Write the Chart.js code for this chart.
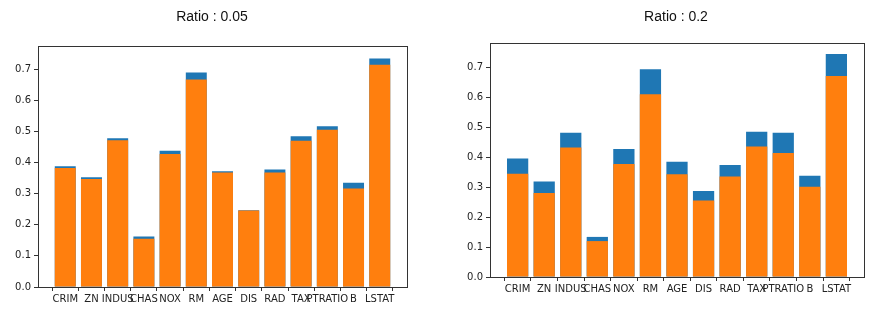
<!DOCTYPE html>
<html>
<head>
<meta charset="utf-8">
<script src="https://cdn.jsdelivr.net/npm/chart.js@4/dist/chart.umd.min.js"></script>
<style>
  body { margin: 0; background: #fff; }
  #wrap { position: relative; width: 884px; height: 329px; }
  canvas { position: absolute; top: 0; }
</style>
</head>
<body>
<div id="wrap">
  <canvas id="graficoA" width="442" height="329" style="left:0"></canvas>
  <canvas id="graficoB" width="442" height="329" style="left:442px"></canvas>
</div>
<script>
const variaveis = ['CRIM', 'ZN', 'INDUS', 'CHAS', 'NOX', 'RM', 'AGE', 'DIS', 'RAD', 'TAX', 'PTRATIO', 'B', 'LSTAT'];

// Ratio : 0.05
const azul005 = [0.388, 0.353, 0.478, 0.162, 0.438, 0.690, 0.372, 0.247, 0.378, 0.485, 0.517, 0.335, 0.735];
const laranja005 = [0.383, 0.347, 0.472, 0.155, 0.428, 0.667, 0.368, 0.246, 0.368, 0.470, 0.506, 0.317, 0.715];

// Ratio : 0.2
const azul02 = [0.396, 0.319, 0.482, 0.134, 0.428, 0.694, 0.385, 0.287, 0.374, 0.485, 0.482, 0.338, 0.745];
const laranja02 = [0.345, 0.281, 0.433, 0.120, 0.378, 0.611, 0.343, 0.256, 0.336, 0.436, 0.414, 0.302, 0.672];

const ticksY = [0.0, 0.1, 0.2, 0.3, 0.4, 0.5, 0.6, 0.7];

// moldura e titulo no estilo matplotlib
const moldura = {
    id: 'moldura',
    afterDraw(chart, args, opts) {
        const { ctx, chartArea } = chart;
        ctx.save();
        ctx.strokeStyle = '#333';
        ctx.lineWidth = 1;
        ctx.strokeRect(Math.round(chartArea.left) + 0.5, Math.round(chartArea.top) + 0.5,
            Math.round(chartArea.right - chartArea.left), Math.round(chartArea.bottom - chartArea.top));
        ctx.fillStyle = '#111';
        ctx.font = '14px "Liberation Sans", Arial, sans-serif';
        ctx.textAlign = 'center';
        ctx.textBaseline = 'middle';
        ctx.fillText(opts.texto, opts.x, 17);
        ctx.restore();
    }
};

function pontos(valores) {
    return valores.map((v, i) => ({ x: i, y: v }));
}

function criarGrafico(id, titulo, tituloX, azul, laranja, larguraY, alturaX, padTopo, padDireita, maxY) {
    const contexto = document.getElementById(id).getContext('2d');
    return new Chart(contexto, {
        type: 'bar',
        data: {
            datasets: [
                {
                    data: pontos(laranja),
                    backgroundColor: '#ff7f0e',
                    grouped: false,
                    order: 1,
                    barPercentage: 0.8,
                    categoryPercentage: 1.0,
                },
                {
                    data: pontos(azul),
                    backgroundColor: '#1f77b4',
                    grouped: false,
                    order: 2,
                    barPercentage: 0.8,
                    categoryPercentage: 1.0,
                },
            ],
        },
        options: {
            responsive: false,
            animation: false,
            layout: { padding: { left: 0, right: padDireita, top: padTopo, bottom: 0 } },
            plugins: {
                legend: { display: false },
                tooltip: { enabled: false },
                moldura: { texto: titulo, x: tituloX },
            },
            scales: {
                x: {
                    type: 'linear',
                    min: -1.04,
                    max: 13.04,
                    offset: false,
                    afterBuildTicks: (escala) => {
                        escala.ticks = variaveis.map((_, i) => ({ value: i }));
                    },
                    afterFit: (escala) => { escala.height = alturaX; },
                    ticks: {
                        autoSkip: false,
                        maxRotation: 0,
                        padding: 2,
                        color: '#222',
                        font: { family: 'DejaVu Sans', size: 10 },
                        callback: (valor) => variaveis[valor],
                    },
                    grid: { drawOnChartArea: false, tickLength: 4, color: '#333' },
                    border: { display: false },
                },
                y: {
                    min: 0,
                    max: maxY,
                    afterBuildTicks: (escala) => {
                        escala.ticks = ticksY.map(v => ({ value: v }));
                    },
                    afterFit: (escala) => { escala.width = larguraY; },
                    ticks: {
                        padding: 3,
                        color: '#222',
                        font: { family: 'DejaVu Sans', size: 10 },
                        callback: (valor) => valor.toFixed(1),
                    },
                    grid: { drawOnChartArea: false, tickLength: 4, color: '#333' },
                    border: { display: false },
                },
            },
        },
        plugins: [moldura],
    });
}

criarGrafico('graficoA', 'Ratio : 0.05', 212, azul005, laranja005, 38, 42, 46, 35, 0.775);
criarGrafico('graficoB', 'Ratio : 0.2', 234, azul02, laranja02, 48, 52, 43, 20, 0.782);
</script>
</body>
</html>
